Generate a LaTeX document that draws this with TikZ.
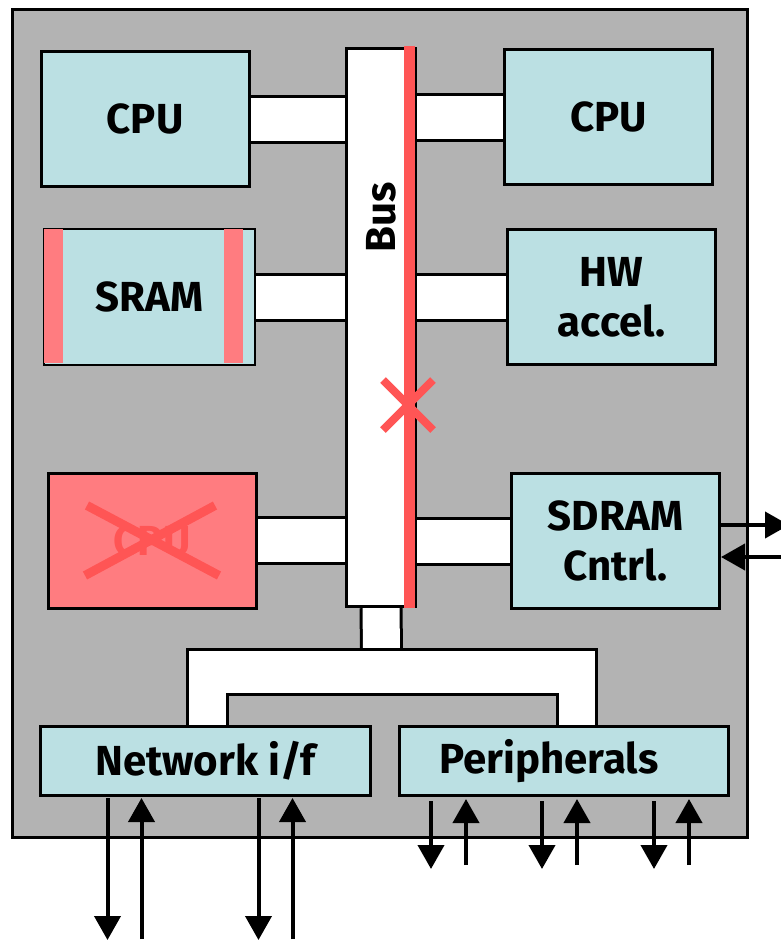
\documentclass[tikz,border=0pt]{standalone}
\usepackage{fontspec}
\setmainfont{Fira Sans}
\usetikzlibrary{positioning, arrows.meta, backgrounds, calc}
\definecolor{chipgray}{RGB}{179,179,179}
\definecolor{blockcyan}{RGB}{187,224,227}
\definecolor{faultpink}{RGB}{255,124,128}
\definecolor{faultred}{RGB}{255,85,85}
\newcommand{\blockfont}{\fontsize{42}{50}\selectfont\bfseries}
\tikzset{
  block/.style={
    draw, line width=3pt, fill=blockcyan,
    minimum width=208pt, minimum height=135pt,
    inner sep=0pt, align=center, font=\blockfont
  },
  bar/.style={draw=black, line width=3pt, double=white, double distance=43pt},
  sig/.style={line width=4pt, -{Triangle[width=26pt, length=24pt]}},
  cross/.style={faultred, line width=9pt},
}

\begin{document}
\begin{tikzpicture}[x=1pt, y=-1pt]
  \useasboundingbox (0,0) rectangle (780,940);

  \node[block] (cpuA) at (145,119) {CPU};
  \node[block, line width=2pt, minimum width=211pt, minimum height=136pt]
                        (sram)   at (149.5,297) {SRAM};
  \node[block, fill=faultpink, text=faultred]
                        (cpuX)   at (152,540.5) {CPU};
  \node[block] (cpuB)   at (608.5,117) {CPU};
  \node[block] (hwacc)  at (611.5,297) {HW\\accel.};
  \node[block] (sdram)  at (615.5,541) {SDRAM\\Cntrl.};
  \node[block, fill=white, minimum width=69pt, minimum height=558pt]
                        (bus)    at (381,327.5) {};
  \node[block, minimum width=330pt, minimum height=69pt]
                        (netif)  at (205.5,761) {Network i/f};
  \node[block, minimum width=329pt, minimum height=69pt]
                        (periph) at (564,761) {Peripherals\hspace*{30pt}};
  \coordinate (hub) at (381.5,650);

  \begin{scope}[on background layer]
    \draw[line width=3pt, fill=chipgray] (12,9) rectangle (747,837);
    \draw[bar] (cpuA.east)  -- (cpuA.east -| bus.west);
    \draw[bar] (sram.east)  -- (sram.east -| bus.west);
    \draw[bar] (cpuX.east)  -- (cpuX.east -| bus.west);
    \draw[bar] (cpuB.west)  -- (cpuB.west -| bus.east);
    \draw[bar] (hwacc.west) -- (hwacc.west -| bus.east);
    \draw[bar] (sdram.west) -- (sdram.west -| bus.east);
    \draw[bar, double distance=37pt] (bus.south) -- (hub);
    \draw[line width=3pt, fill=white]
      (187.5,726) -- (187.5,649.5) -- (596.5,649.5) -- (596.5,726)
      -- (557.5,726) -- (557.5,694.5) -- (227.5,694.5) -- (227.5,726) -- cycle;
  \end{scope}

  % broken parts
  \fill[faultpink] ($(sram.north west)+(1,1)$) rectangle ++(19,134);
  \fill[faultpink] ($(sram.north west)+(181,1)$) rectangle ++(19,134);
  \draw[faultred, line width=11pt]
    ($(bus.north east)+(-8,-1.5)$) -- ($(bus.south east)+(-8,0)$);
  \node[rotate=90, font=\blockfont] (buslbl) at (381,217) {Bus};
  \coordinate (busfault) at (408,405);
  \draw[cross, line width=8pt]
    ($(busfault)+(-25,-25)$) -- ($(busfault)+(25,25)$)
    ($(busfault)+(25,-25)$) -- ($(busfault)+(-25,25)$);
  \draw[cross]
    ($(cpuX)+(-65,-35)$) -- ($(cpuX)+(67,35)$)
    ($(cpuX)+(63,-35)$) -- ($(cpuX)+(-67,35)$);

  % off-chip signals
  \draw[sig] ($(sdram.east)+(0,-16)$) -- ++(68,0);
  \draw[sig] ($(sdram.east)+(70,16)$) -- ($(sdram.east)+(0,16)$);
  \foreach \dx in {-98, 53} {
    \draw[sig] ($(netif.south)+(\dx,1)$) -- ++(0,142);
    \draw[sig] ($(netif.south)+(\dx+34,142)$) -- ($(netif.south)+(\dx+34,1)$);
  }
  \foreach \dx in {-133, -22, 90} {
    \draw[sig] ($(periph.south)+(\dx,4)$) -- ++(0,68);
    \draw[sig] ($(periph.south)+(\dx+35,68)$) -- ($(periph.south)+(\dx+35,2)$);
  }
\end{tikzpicture}
\end{document}
